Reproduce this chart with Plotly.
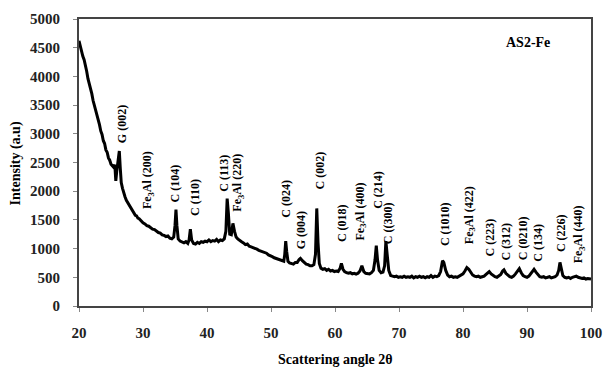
import plotly.graph_objects as go

two_theta = [
    20.0, 20.2, 20.4, 20.6, 20.8, 21.0, 21.2, 21.4, 21.6, 21.8, 22.0, 22.2, 22.4, 22.6, 22.8,
    23.0, 23.2, 23.4, 23.6, 23.8, 24.0, 24.2, 24.4, 24.6, 24.8, 25.0, 25.2, 25.4, 25.6, 25.75,
    25.9, 26.1, 26.3, 26.45, 26.6, 26.8, 27.0, 27.2, 27.4, 27.6, 27.8, 28.0, 28.2, 28.4, 28.6,
    28.8, 29.0, 29.2, 29.4, 29.6, 29.8, 30.0, 30.3, 30.6, 30.9, 31.2, 31.5, 31.8, 32.1, 32.4,
    32.7, 33.0, 33.3, 33.6, 33.9, 34.2, 34.5, 34.8, 35.0, 35.15, 35.3, 35.5, 35.8, 36.1, 36.4,
    36.7, 37.0, 37.2, 37.4, 37.6, 37.9, 38.2, 38.5, 38.8, 39.1, 39.4, 39.7, 40.0, 40.3, 40.6,
    40.9, 41.2, 41.5, 41.8, 42.1, 42.4, 42.7, 42.95, 43.15, 43.35, 43.55, 43.8, 44.05, 44.3, 44.55,
    44.8, 45.1, 45.4, 45.7, 46.0, 46.3, 46.6, 46.9, 47.2, 47.5, 47.8, 48.1, 48.4, 48.7, 49.0,
    49.3, 49.6, 49.9, 50.2, 50.5, 50.8, 51.1, 51.4, 51.7, 52.0, 52.15, 52.3, 52.45, 52.65, 52.9,
    53.2, 53.5, 53.8, 54.1, 54.4, 54.6, 54.9, 55.2, 55.5, 55.8, 56.1, 56.4, 56.7, 56.95, 57.15,
    57.35, 57.55, 57.8, 58.1, 58.4, 58.7, 59.0, 59.3, 59.6, 59.9, 60.2, 60.5, 60.8, 61.0, 61.25,
    61.5, 61.8, 62.1, 62.4, 62.7, 63.0, 63.3, 63.6, 63.9, 64.2, 64.5, 64.8, 65.1, 65.4, 65.7,
    66.0, 66.25, 66.45, 66.65, 66.9, 67.2, 67.5, 67.75, 67.95, 68.15, 68.4, 68.7, 69.0, 69.3, 69.6,
    69.9, 70.2, 70.5, 70.8, 71.1, 71.4, 71.7, 72.0, 72.3, 72.6, 72.9, 73.2, 73.5, 73.8, 74.1,
    74.4, 74.7, 75.0, 75.3, 75.6, 75.9, 76.2, 76.5, 76.8, 77.0, 77.3, 77.6, 77.9, 78.2, 78.5,
    78.8, 79.1, 79.4, 79.7, 80.0, 80.3, 80.6, 80.9, 81.2, 81.5, 81.8, 82.1, 82.4, 82.7, 83.0,
    83.3, 83.6, 83.9, 84.1, 84.4, 84.7, 85.0, 85.3, 85.6, 85.9, 86.2, 86.4, 86.7, 87.0, 87.3,
    87.6, 87.9, 88.2, 88.5, 88.8, 89.1, 89.4, 89.7, 90.0, 90.3, 90.6, 90.9, 91.1, 91.4, 91.7,
    92.0, 92.3, 92.6, 92.9, 93.2, 93.5, 93.8, 94.1, 94.4, 94.7, 94.95, 95.15, 95.35, 95.6, 95.9,
    96.2, 96.5, 96.8, 97.1, 97.4, 97.7, 98.0, 98.3, 98.6, 98.9, 99.2, 99.5, 99.8, 100.0,
]

intensity = [
    4620, 4520, 4480, 4350, 4290, 4150, 4090, 3960, 3880, 3760, 3700, 3580, 3500, 3390, 3330,
    3220, 3160, 3050, 2990, 2880, 2830, 2720, 2680, 2580, 2540, 2470, 2450, 2420, 2460, 2180,
    2350, 2500, 2700, 2400, 2150, 2050, 1960, 1900, 1840, 1800, 1760, 1720, 1690, 1640, 1620,
    1580, 1570, 1530, 1520, 1490, 1480, 1450, 1430, 1400, 1390, 1360, 1340, 1330, 1300, 1280,
    1270, 1240, 1230, 1210, 1220, 1180, 1170, 1200, 1400, 1680, 1400, 1170, 1130, 1120, 1100,
    1120, 1090, 1150, 1340, 1150, 1090, 1080, 1110, 1090, 1120, 1110, 1130, 1120, 1150, 1120,
    1140, 1130, 1160, 1120, 1150, 1140, 1170, 1300, 1870, 1600, 1250, 1240, 1440, 1300, 1200,
    1170, 1140, 1120, 1100, 1070, 1080, 1040, 1030, 1020, 1000, 990, 970, 960, 950, 930,
    920, 890, 880, 860, 840, 830, 810, 800, 790, 780, 900, 1130, 950, 780, 750,
    740, 730, 760, 760, 810, 830, 790, 750, 730, 720, 700, 700, 720, 900, 1700,
    1100, 740, 660, 640, 650, 620, 640, 610, 620, 600, 610, 600, 660, 740, 640,
    600, 580, 570, 580, 560, 570, 555, 570, 610, 700, 600, 570, 560, 560, 580,
    620, 800, 1050, 800, 620, 580, 590, 700, 1130, 900, 620, 530, 520, 510, 520,
    500, 510, 500, 520, 500, 510, 500, 520, 490, 510, 500, 520, 500, 510, 490,
    510, 500, 530, 500, 520, 510, 530, 600, 790, 760, 620, 540, 510, 520, 500,
    510, 500, 520, 530, 560, 610, 670, 640, 580, 540, 520, 510, 520, 500, 510,
    520, 550, 590, 600, 560, 530, 510, 500, 520, 550, 610, 630, 570, 530, 510,
    500, 520, 560, 610, 650, 580, 530, 510, 500, 520, 570, 620, 640, 590, 540,
    510, 500, 510, 490, 500, 510, 490, 500, 510, 540, 620, 760, 640, 530, 500,
    490, 500, 480, 500, 510, 520, 500, 490, 480, 490, 470, 480, 470, 470,
]

peak_labels = [
    "G (002)", "Fe<sub>3</sub>Al (200)", "C (104)", "C (110)", "C (113)", "Fe<sub>3</sub>Al (220)",
    "C (024)", "G (004)", "C (002)", "C (018)", "Fe<sub>3</sub>Al (400)", "C (214)", "C ((300)",
    "C (1010)", "Fe<sub>3</sub>Al (422)", "C (223)", "C (312)", "C (0210)", "C (134)", "C (226)",
    "Fe<sub>3</sub>Al (440)",
]
label_x = [26.7, 30.9, 35.0, 38.0, 42.6, 44.9, 52.4, 54.6, 57.6, 61.1, 64.0, 66.8, 68.2,
           77.2, 81.0, 84.2, 86.7, 89.3, 91.6, 95.2, 98.1]
label_y = [2800, 1650, 1770, 1530, 1960, 1615, 1510, 960, 1990, 1080, 1100, 1650, 1050,
           1010, 1050, 825, 755, 755, 740, 910, 705]

x_ticks = [20, 30, 40, 50, 60, 70, 80, 90, 100]
y_ticks = [0, 500, 1000, 1500, 2000, 2500, 3000, 3500, 4000, 4500, 5000]

SERIF = "Liberation Serif, Times New Roman, serif"

fig = go.Figure()
fig.add_trace(go.Scatter(
    x=two_theta, y=intensity, mode="lines",
    line=dict(color="black", width=3), showlegend=False,
))

annotations = []
for t, x, y in zip(peak_labels, label_x, label_y):
    annotations.append(dict(
        x=x, y=y, xref="x", yref="y", text=t, textangle=-90, showarrow=False,
        xanchor="center", yanchor="bottom",
        font=dict(family=SERIF, size=12, color="black", weight="bold"),
    ))
annotations.append(dict(
    x=90.2, y=4590, xref="x", yref="y", text="AS2-Fe", showarrow=False,
    xanchor="center", yanchor="middle",
    font=dict(family=SERIF, size=14, color="black", weight="bold"),
))
annotations.append(dict(
    x=0.5, y=-0.185, xref="paper", yref="paper", text="Scattering angle 2θ", showarrow=False,
    xanchor="center", yanchor="middle",
    font=dict(family=SERIF, size=14, color="black", weight="bold"),
))
annotations.append(dict(
    x=-0.124, y=0.495, xref="paper", yref="paper", text="Intensity (a.u)", showarrow=False,
    textangle=-90, xanchor="center", yanchor="middle",
    font=dict(family=SERIF, size=14, color="black", weight="bold"),
))

fig.update_layout(
    width=613, height=367,
    margin=dict(l=79, r=11, t=15, b=61),
    paper_bgcolor="white", plot_bgcolor="white",
    annotations=annotations,
    xaxis=dict(
        range=[20, 100], tickvals=x_ticks, ticktext=[str(v) for v in x_ticks],
        showgrid=False, zeroline=False, showline=True, mirror=True,
        linecolor="#444", linewidth=2, ticks="outside", ticklen=4, tickcolor="#888",
        ticklabelstandoff=8,
        tickfont=dict(family=SERIF, size=15, color="#222", weight="bold"),
    ),
    yaxis=dict(
        range=[0, 5000], tickvals=y_ticks, ticktext=[str(v) for v in y_ticks],
        showgrid=False, zeroline=False, showline=True, mirror=True,
        linecolor="#444", linewidth=2, ticks="outside", ticklen=4, tickcolor="#888",
        ticklabelstandoff=10,
        tickfont=dict(family=SERIF, size=15, color="#222", weight="bold"),
    ),
)

fig.write_html("out.html")
